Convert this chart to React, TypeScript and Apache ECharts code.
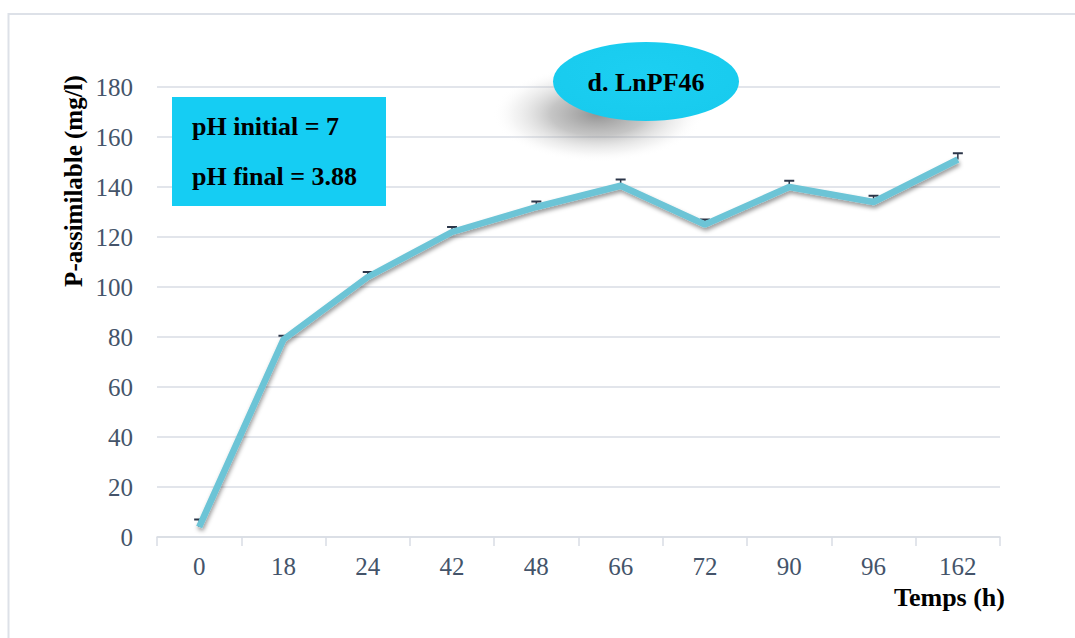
import React, { useEffect, useRef } from "react";
import * as echarts from "echarts";

const categories = ["0", "18", "24", "42", "48", "66", "72", "90", "96", "162"];
const values = [4, 79, 104, 122, 132, 140.5, 125, 140, 134, 151];
const errors = [3, 1.5, 2, 2, 2.2, 2.5, 2, 2.5, 2.5, 2.5];
const yTicks = { min: 0, max: 180, interval: 20 };

const SERIF = "'Liberation Serif', 'Times New Roman', serif";
const LABEL_COLOR = "#44546A";
const GRID_COLOR = "#d9dde4";

export default function App() {
  const ref = useRef<HTMLDivElement>(null);
  useEffect(() => {
    if (!ref.current) return;
    const chart = echarts.init(ref.current, undefined, { renderer: "svg" });
    const errData = values.map((v, i) => [i, v, errors[i]]);
    chart.setOption({
      animation: false,
      backgroundColor: "#ffffff",
      grid: { left: 157, right: 75, top: 87, bottom: 101, containLabel: false },
      xAxis: {
        type: "category",
        data: categories,
        boundaryGap: true,
        axisLine: { show: true, lineStyle: { color: GRID_COLOR, width: 1.5 } },
        axisTick: { show: true, length: 9, lineStyle: { color: GRID_COLOR, width: 1.5 } },
        axisLabel: { color: LABEL_COLOR, fontFamily: SERIF, fontSize: 25, margin: 17 },
      },
      yAxis: {
        type: "value",
        min: yTicks.min,
        max: yTicks.max,
        interval: yTicks.interval,
        axisLine: { show: false },
        axisTick: { show: false },
        splitLine: { lineStyle: { color: GRID_COLOR, width: 1.5 } },
        axisLabel: { color: LABEL_COLOR, fontFamily: SERIF, fontSize: 25, margin: 24 },
      },
      series: [
        {
          type: "custom",
          z: 3,
          data: errData,
          encode: { x: 0, y: 1 },
          renderItem: (params: any, api: any) => {
            const p = api.coord([api.value(0), api.value(1)]);
            const t = api.coord([api.value(0), api.value(1) + api.value(2)]);
            const stroke = "#2b3548";
            return {
              type: "group",
              children: [
                { type: "line", shape: { x1: p[0], y1: p[1], x2: p[0], y2: t[1] }, style: { stroke, lineWidth: 1.5 } },
                { type: "line", shape: { x1: p[0] - 5, y1: t[1], x2: p[0] + 5, y2: t[1] }, style: { stroke, lineWidth: 2 } },
              ],
            };
          },
        },
        {
          type: "line",
          z: 4,
          data: values,
          symbol: "none",
          lineStyle: {
            color: "#6cc4d6",
            width: 6.5,
            shadowColor: "rgba(0,0,0,0.4)",
            shadowBlur: 4,
            shadowOffsetY: 3,
            shadowOffsetX: 1,
          },
        },
      ],
      graphic: [
        {
          type: "rect",
          z: 0,
          silent: true,
          shape: { x: 8.5, y: 14, width: 1200, height: 800 },
          style: { fill: "none", stroke: "#dde1e8", lineWidth: 2 },
        },
        {
          type: "ellipse",
          z: 90,
          shape: { cx: 598, cy: 114, rx: 105, ry: 48 },
          style: {
            fill: {
              type: "radial",
              x: 0.5,
              y: 0.5,
              r: 0.5,
              colorStops: [
                { offset: 0, color: "rgba(110,110,110,0.75)" },
                { offset: 0.45, color: "rgba(140,140,140,0.5)" },
                { offset: 0.8, color: "rgba(200,200,200,0.2)" },
                { offset: 1, color: "rgba(255,255,255,0)" },
              ],
            },
          },
        },
        {
          type: "ellipse",
          z: 91,
          shape: { cx: 646, cy: 81.5, rx: 93, ry: 39.5 },
          style: {
            fill: {
              type: "radial",
              x: 0.5,
              y: 0.4,
              r: 0.7,
              colorStops: [
                { offset: 0, color: "#1ccff2" },
                { offset: 0.85, color: "#18cbee" },
                { offset: 1, color: "#30d4f2" },
              ],
            },
          },
        },
        {
          type: "text",
          z: 92,
          x: 646,
          y: 82,
          style: {
            text: "d. LnPF46",
            fontFamily: SERIF,
            fontWeight: "bold",
            fontSize: 26,
            fill: "#000",
            align: "center",
            verticalAlign: "middle",
          },
        },
        {
          type: "rect",
          z: 90,
          shape: { x: 172, y: 97, width: 214, height: 109 },
          style: { fill: "#15cdf3" },
        },
        {
          type: "text",
          z: 91,
          x: 192,
          y: 126,
          style: {
            text: "pH initial = 7",
            fontFamily: SERIF,
            fontWeight: "bold",
            fontSize: 26,
            fill: "#000",
            align: "left",
            verticalAlign: "middle",
          },
        },
        {
          type: "text",
          z: 91,
          x: 192,
          y: 176,
          style: {
            text: "pH final = 3.88",
            fontFamily: SERIF,
            fontWeight: "bold",
            fontSize: 26,
            fill: "#000",
            align: "left",
            verticalAlign: "middle",
          },
        },
        {
          type: "text",
          z: 91,
          x: 73,
          y: 181,
          rotation: Math.PI / 2,
          style: {
            text: "P-assimilable (mg/l)",
            fontFamily: SERIF,
            fontWeight: "bold",
            fontSize: 25,
            fill: "#000",
            align: "center",
            verticalAlign: "middle",
          },
        },
        {
          type: "text",
          z: 91,
          x: 1005,
          y: 597,
          style: {
            text: "Temps (h)",
            fontFamily: SERIF,
            fontWeight: "bold",
            fontSize: 26,
            fill: "#000",
            align: "right",
            verticalAlign: "middle",
          },
        },
      ],
    });
    return () => chart.dispose();
  }, []);
  return (
    <div
      ref={ref}
      style={{ position: "fixed", left: 0, top: 0, width: 1075, height: 638 }}
    />
  );
}
